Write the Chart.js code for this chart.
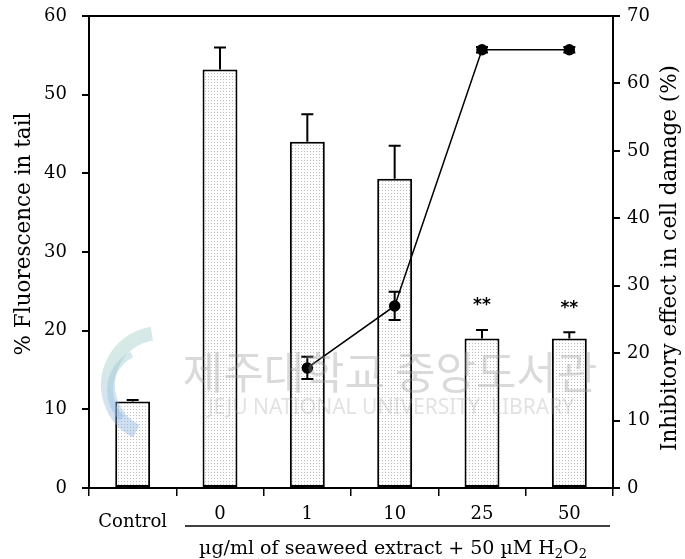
<!DOCTYPE html>
<html>
<head>
<meta charset="utf-8">
<script src="https://cdn.jsdelivr.net/npm/chart.js@4"></script>
<style>
  html, body { margin: 0; padding: 0; background: #fff; }
  #wrap { width: 685px; height: 559px; }
</style>
</head>
<body>
<div id="wrap"><canvas id="c" width="685" height="559"></canvas></div>
<script>
// categories and values
const categories = ['Control', '0', '1', '10', '25', '50'];
const tailValues = [11.0, 53.2, 44.0, 39.3, 19.0, 19.0];
const tailErrors = [0.2, 2.8, 3.5, 4.2, 1.1, 0.8];
const inhibValues = [null, null, 17.8, 27.0, 65.0, 65.0];
const inhibErrors = [0, 0, 1.65, 2.1, 0.4, 0.4];
const starLabels = ['', '', '', '', '**', '**'];
const leftTicks = [0, 10, 20, 30, 40, 50, 60];
const rightTicks = [0, 10, 20, 30, 40, 50, 60, 70];
const leftTitle = '% Fluorescence in tail';
const rightTitle = 'Inhibitory effect in cell damage (%)';

const serif = '"DejaVu Serif", "Liberation Serif", serif';

// dotted fill for the bars
function dotPattern() {
  const t = document.createElement('canvas');
  t.width = 3; t.height = 3;
  const g = t.getContext('2d');
  g.fillStyle = '#ffffff';
  g.fillRect(0, 0, 3, 3);
  g.fillStyle = '#bcbcbc';
  g.fillRect(1, 1, 1, 1);
  return g.createPattern(t, 'repeat');
}

function vText(ctx, text, x, y) {
  ctx.save();
  ctx.translate(x, y);
  ctx.rotate(-Math.PI / 2);
  ctx.fillText(text, 0, 0);
  ctx.restore();
}

// error bars, stars, frame, titles and the group label under the axis
const extras = {
  id: 'extras',
  afterDatasetsDraw(chart) {
    const ctx = chart.ctx;
    const x = chart.scales.x, y = chart.scales.y, y1 = chart.scales.y1;
    const area = chart.chartArea;
    ctx.save();
    ctx.strokeStyle = '#000';
    ctx.lineWidth = 2;
    // bar errors (upward only)
    tailValues.forEach((v, i) => {
      const px = x.getPixelForValue(i);
      const top = y.getPixelForValue(v + tailErrors[i]);
      const base = y.getPixelForValue(v);
      ctx.beginPath();
      ctx.moveTo(px, base); ctx.lineTo(px, top);
      ctx.moveTo(px - 6, top); ctx.lineTo(px + 6, top);
      ctx.stroke();
    });
    // line errors (both ways)
    inhibValues.forEach((v, i) => {
      if (v === null) return;
      const px = x.getPixelForValue(i);
      const hi = y1.getPixelForValue(v + inhibErrors[i]);
      const lo = y1.getPixelForValue(v - inhibErrors[i]);
      ctx.beginPath();
      ctx.moveTo(px, lo); ctx.lineTo(px, hi);
      ctx.moveTo(px - 6, hi); ctx.lineTo(px + 6, hi);
      ctx.moveTo(px - 6, lo); ctx.lineTo(px + 6, lo);
      ctx.stroke();
    });
    // stars
    ctx.fillStyle = '#000';
    ctx.font = 'bold 17px "DejaVu Sans", sans-serif';
    ctx.textAlign = 'center';
    ctx.textBaseline = 'middle';
    starLabels.forEach((s, i) => {
      if (!s) return;
      ctx.fillText(s, x.getPixelForValue(i), y.getPixelForValue(tailValues[i] + tailErrors[i]) - 24);
    });
    // top frame line
    ctx.beginPath();
    ctx.moveTo(area.left - 7, area.top);
    ctx.lineTo(area.right, area.top);
    ctx.stroke();

    // watermark
    ctx.globalAlpha = 0.4;
    const grd = ctx.createLinearGradient(95, 340, 175, 440);
    grd.addColorStop(0, '#9fd3b0');
    grd.addColorStop(0.5, '#8fb7e0');
    grd.addColorStop(1, '#6f9fd8');
    ctx.strokeStyle = grd;
    ctx.lineWidth = 14;
    ctx.beginPath();
    ctx.arc(160, 385, 52, Math.PI * 0.65, Math.PI * 1.45);
    ctx.stroke();
    ctx.lineWidth = 6;
    ctx.beginPath();
    ctx.arc(150, 390, 40, Math.PI * 0.75, Math.PI * 1.35);
    ctx.stroke();
    ctx.globalAlpha = 1;
    ctx.strokeStyle = '#000';
    ctx.fillStyle = 'rgba(150,150,150,0.35)';
    ctx.font = '44px "Noto Sans CJK KR", sans-serif';
    ctx.fillText('제주대학교 중앙도서관', 390, 372);
    ctx.fillStyle = 'rgba(160,160,160,0.3)';
    ctx.font = '21px "Noto Sans", sans-serif';
    ctx.fillText('JEJU NATIONAL UNIVERSITY  LIBRARY', 391, 408);

    // axis titles (both read bottom to top)
    ctx.fillStyle = '#000';
    ctx.font = '21.5px ' + serif;
    ctx.textBaseline = 'middle';
    vText(ctx, leftTitle, 24, 234);
    vText(ctx, rightTitle, 670, 258);

    // category labels
    ctx.font = '18px ' + serif;
    ctx.textBaseline = 'alphabetic';
    categories.forEach((c, i) => {
      const px = x.getPixelForValue(i);
      ctx.fillText(c, px, i === 0 ? 527 : 519);
    });
    // group underline and caption
    ctx.lineWidth = 1.5;
    ctx.beginPath();
    ctx.moveTo(185, 526);
    ctx.lineTo(610, 526);
    ctx.stroke();
    const main = '\u00b5g/ml of seaweed extract + 50 \u00b5M H';
    ctx.font = '19px ' + serif;
    const w = ctx.measureText(main).width;
    ctx.font = '13px ' + serif;
    const sw = ctx.measureText('2').width;
    ctx.font = '19px ' + serif;
    const ow = ctx.measureText('O').width;
    let cx = 393 - (w + ow + 2 * sw) / 2;
    ctx.textAlign = 'left';
    ctx.fillText(main, cx, 554);
    cx += w;
    ctx.font = '13px ' + serif;
    ctx.fillText('2', cx, 558);
    cx += sw;
    ctx.font = '19px ' + serif;
    ctx.fillText('O', cx, 554);
    cx += ow;
    ctx.font = '13px ' + serif;
    ctx.fillText('2', cx, 558);
    ctx.restore();
  }
};

// fixed box sizes so the plot area sits where it does in the figure
function fitY(width) {
  return s => {
    s.width = width;
    s.paddingTop = 0;
    s.paddingBottom = 0;
  };
}

new Chart(document.getElementById('c'), {
  data: {
    labels: categories,
    datasets: [{
      type: 'line',
      data: inhibValues,
      yAxisID: 'y1',
      borderColor: '#000',
      borderWidth: 1.5,
      pointRadius: 5,
      pointBackgroundColor: '#000',
      pointBorderColor: '#000',
      order: 0
    }, {
      type: 'bar',
      data: tailValues,
      yAxisID: 'y',
      backgroundColor: dotPattern(),
      borderColor: '#000',
      borderWidth: 2,
      borderSkipped: false,
      categoryPercentage: 1,
      barPercentage: 0.4,
      order: 1
    }]
  },
  options: {
    responsive: false,
    animation: false,
    layout: { padding: { top: 16, left: 0, right: 0, bottom: 0 } },
    plugins: { legend: { display: false }, tooltip: { enabled: false } },
    scales: {
      x: {
        offset: true,
        afterFit: s => { s.height = 71; s.paddingLeft = 0; s.paddingRight = 0; },
        grid: { offset: true, drawOnChartArea: false, tickLength: 8, color: '#000', lineWidth: 1.5 },
        border: { color: '#000', width: 2 },
        ticks: { display: false }
      },
      y: {
        position: 'left',
        min: 0, max: 60,
        afterFit: fitY(89),
        afterBuildTicks: s => { s.ticks = leftTicks.map(v => ({ value: v })); },
        grid: { drawOnChartArea: false, tickLength: 7, color: '#000', lineWidth: 2 },
        border: { color: '#000', width: 2 },
        ticks: { color: '#000', padding: 15, font: { family: serif, size: 18 } }
      },
      y1: {
        position: 'right',
        min: 0, max: 70,
        afterFit: fitY(72),
        afterBuildTicks: s => { s.ticks = rightTicks.map(v => ({ value: v })); },
        grid: { drawOnChartArea: false, tickLength: 7, color: '#000', lineWidth: 2 },
        border: { color: '#000', width: 2 },
        ticks: { color: '#000', padding: 7, font: { family: serif, size: 18 } }
      }
    }
  },
  plugins: [extras]
});
</script>
</body>
</html>
